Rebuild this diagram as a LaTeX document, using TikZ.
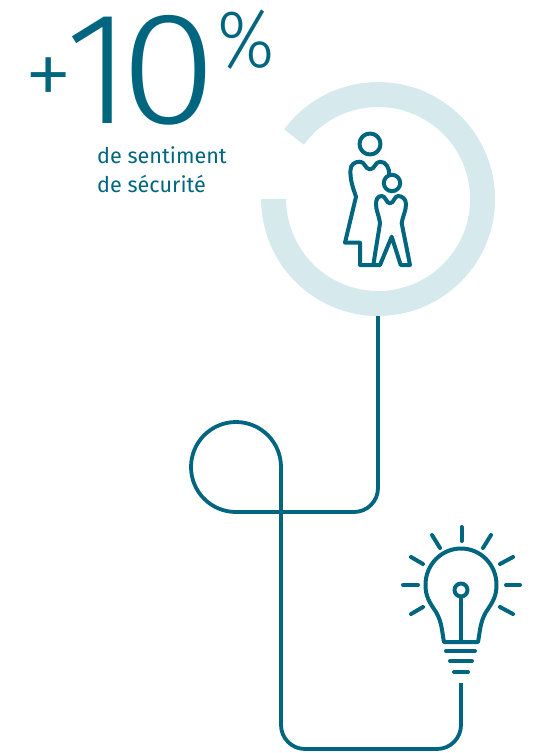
\documentclass[tikz,border=0pt]{standalone}
\usepackage{fontspec}
\setmainfont{Fira Sans}
\newfontfamily\lightfont{Fira Sans Light}
\definecolor{teal1}{HTML}{00667F}
\definecolor{ring1}{HTML}{D6EAEE}
\tikzset{
  ln/.style={draw=teal1,line width=4pt,line join=round,line cap=round},
  conn/.style={draw=teal1,line width=3.8pt},
  txt/.style={text=teal1,inner sep=0pt,anchor=base west},
}
\begin{document}
\begin{tikzpicture}[x=1pt,y=-1pt]
\useasboundingbox (0,0) rectangle (538,753);
% texts
\node[txt] (plus) at (24,107) {\lightfont\fontsize{98}{98}\selectfont +};
\node[txt] (one) at (65,123) {\lightfont\fontsize{160}{160}\selectfont 1};
\node[txt] (zero) at (120,123) {\lightfont\fontsize{160}{160}\selectfont\scalebox{1.1}[1]{0}};
\node[txt] (pct) at (217.5,67) {\lightfont\fontsize{82}{82}\selectfont\scalebox{.88}[1]{\%}};
\node[txt] (l1) at (97,163) {\fontsize{21.6}{24}\selectfont de sentiment};
\node[txt] (l2) at (97,192) {\fontsize{21.6}{24}\selectfont de sécurité};
% ring
\coordinate (ringc) at (378,199);
\draw[ring1,line width=25pt] (294,137) arc[start angle=-143.6,end angle=180,radius=104.5];
% mother and child
\draw[ln] (370,144) circle[radius=10.5];
\draw[ln] (392,183) circle[radius=8.2];
\draw[ln] (389.3,175) .. controls (389.5,168) and (386,161.5) .. (380,161.7)
  .. controls (375,161.7) and (375,169.3) .. (370,169.3)
  .. controls (365,169.3) and (365,161.7) .. (360,161.7)
  .. controls (354,161.7) and (350.7,165) .. (350.5,170)
  .. controls (350,180) and (353,188) .. (356,196.7)
  -- (345,242.7) -- (360,242.7) -- (360,265) -- (373.3,265);
\draw[ln] (373.3,265) -- (380,265) -- (391.7,236.7) -- (400.7,265) -- (410,265) -- (401.7,223.3)
  .. controls (403,215) and (406,211) .. (406,204)
  .. controls (406,199) and (402,196) .. (398.3,196)
  .. controls (394,196) and (394,203.3) .. (390,203.3)
  .. controls (386,203.3) and (386,196) .. (381.7,196)
  .. controls (378,196) and (376,199) .. (376,204)
  .. controls (376,211) and (379,215) .. (380,223.3)
  -- (373.3,265);
% connector
\coordinate (a) at (378,316);
\coordinate (b) at (461,683);
\draw[conn] (a) -- (378,488) arc[start angle=0,end angle=90,radius=24] -- (236,512)
  arc[start angle=90,end angle=360,radius=45] -- (281,725)
  arc[start angle=180,end angle=90,radius=24] -- (437,749)
  arc[start angle=90,end angle=0,radius=24] -- (b);
% bulb
\draw[ln] (444,642) .. controls (442,632) and (442,622) .. (436,612)
  .. controls (430,603) and (425.5,597) .. (425.5,585)
  .. controls (425.5,564) and (442,548.5) .. (461,548.5)
  .. controls (480,548.5) and (496.5,564) .. (496.5,585)
  .. controls (496.5,597) and (492,603) .. (486,612)
  .. controls (480,622) and (480,632) .. (478,642) -- cycle;
\draw[ln] (461,590) circle[radius=6.5];
\draw[ln] (461,596.5) -- (461,642);
\foreach \xa/\ya/\xb/\yb in {446/651/475/651,450/661/472/661,454/672/468/672,
 461.5/527/461.5/541,432/535/440/548,491/535/483/548,411/557/423/564,513/557/500/564,
 403/585/418/585,506/585/520/585,411/614/423/607,513/614/500/607}
  \draw[ln] (\xa,\ya) -- (\xb,\yb);
\end{tikzpicture}
\end{document}
